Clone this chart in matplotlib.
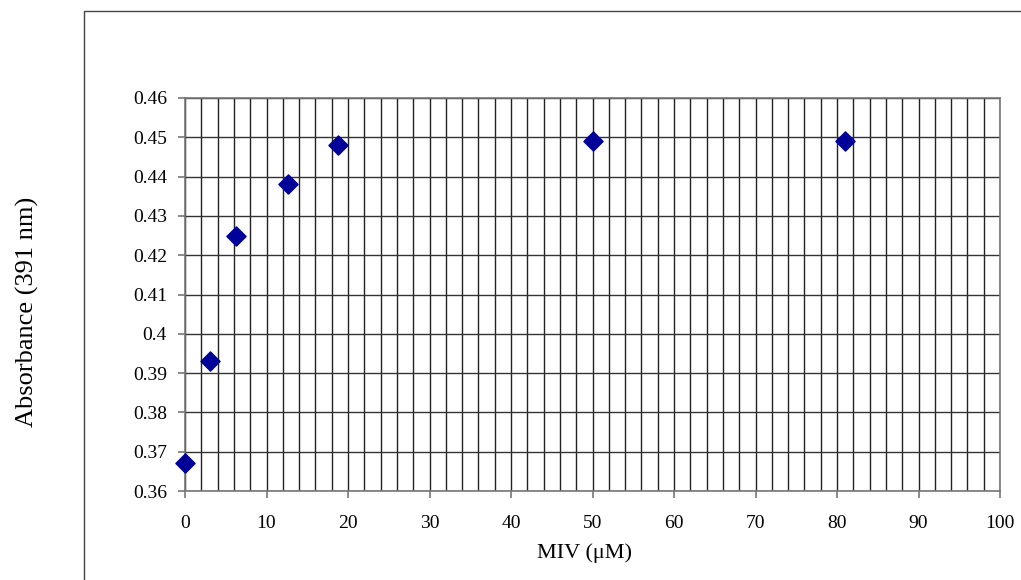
"""Absorbance at 391 nm versus MIV concentration (Excel-style scatter)."""

import matplotlib

matplotlib.use("Agg")
import matplotlib.pyplot as plt
from matplotlib.patches import Rectangle
from matplotlib.ticker import MultipleLocator

miv_um = [0, 3.1, 6.25, 12.6, 18.8, 50, 81]
absorbance = [0.367, 0.393, 0.425, 0.438, 0.448, 0.449, 0.449]
x_ticks = list(range(0, 101, 10))
y_ticks = [0.36, 0.37, 0.38, 0.39, 0.40, 0.41, 0.42, 0.43, 0.44, 0.45, 0.46]
y_tick_labels = ["0.36", "0.37", "0.38", "0.39", "0.4", "0.41", "0.42", "0.43", "0.44", "0.45", "0.46"]

plt.rcParams["font.family"] = ["Liberation Serif", "DejaVu Serif"]

W, H = 1021, 580
fig = plt.figure(figsize=(W / 100, H / 100), dpi=100)

# chart frame (only left and top edges are visible in the crop)
fig.add_artist(
    Rectangle((84 / W, -0.1), 2.0, 1 - 11 / H + 0.1, transform=fig.transFigure,
              fill=False, edgecolor="#444444", linewidth=1.0)
)

left, right, top, bottom = 185, 1000, 98, 491
ax = fig.add_axes([left / W, 1 - bottom / H, (right - left) / W, (bottom - top) / H])

ax.set_xlim(0, 100)
ax.set_ylim(0.36, 0.46)
ax.set_xticks(x_ticks)
ax.set_yticks(y_ticks)
ax.set_yticklabels(y_tick_labels)
ax.xaxis.set_minor_locator(MultipleLocator(2))

ax.grid(True, which="major", axis="y", color="#333333", linewidth=1.0)
ax.grid(True, which="both", axis="x", color="#222222", linewidth=1.0)
ax.set_axisbelow(True)

for side in ["top", "right", "left", "bottom"]:
    ax.spines[side].set_color("#777777")
    ax.spines[side].set_linewidth(1.2)

ax.tick_params(axis="both", which="major", direction="out", length=5, width=1.2,
               color="#777777", labelsize=14)
ax.tick_params(axis="x", which="minor", length=0)
ax.tick_params(axis="x", pad=12)
ax.tick_params(axis="y", pad=8)

ax.scatter(miv_um, absorbance, marker="D", s=95, color="#000099", zorder=3, clip_on=False)

fig.text(584 / W, 1 - 553 / H, "MIV (\u03bcM)", fontsize=16, ha="center", va="center")
fig.text(27 / W, 1 - 312 / H, "Absorbance (391 nm)", rotation=90, fontsize=19,
         ha="center", va="center")

fig.savefig("out.png", dpi=100)
